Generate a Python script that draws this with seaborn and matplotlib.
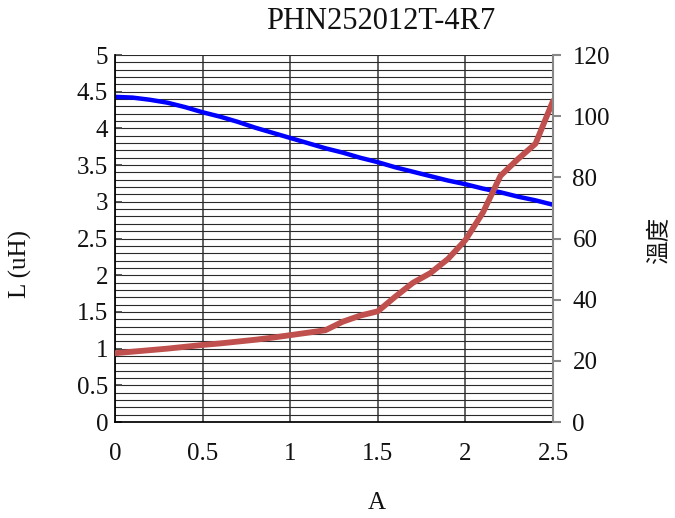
import numpy as np
import pandas as pd
import seaborn as sns
import matplotlib.pyplot as plt
from matplotlib.ticker import MultipleLocator, FormatStrFormatter

# --- data ---
current = [0.0, 0.1, 0.2, 0.3, 0.4, 0.5, 0.6, 0.7, 0.8, 0.9, 1.0, 1.1, 1.2,
           1.3, 1.4, 1.5, 1.6, 1.7, 1.8, 1.9, 2.0, 2.1, 2.2, 2.3, 2.4, 2.5]
inductance = [4.43, 4.42, 4.39, 4.35, 4.29, 4.22, 4.16, 4.09, 4.01, 3.94, 3.87,
              3.80, 3.73, 3.67, 3.60, 3.54, 3.47, 3.41, 3.35, 3.29, 3.24, 3.18,
              3.13, 3.07, 3.02, 2.96]
temperature = [22.5, 23.0, 23.5, 24.0, 24.6, 25.2, 25.7, 26.3, 26.9, 27.6, 28.4,
               29.2, 30.0, 32.8, 34.8, 36.2, 41.0, 45.5, 48.7, 53.3, 59.5, 68.5,
               80.5, 86.0, 91.0, 105.0]
x_ticks = [0, 0.5, 1, 1.5, 2, 2.5]
x_labels = ["0", "0.5", "1", "1.5", "2", "2.5"]

df = pd.DataFrame({"A": current, "L": inductance, "T": temperature})

sns.set_theme(style="white")
plt.rcParams['font.family'] = ['Liberation Serif', 'Noto Sans CJK TC']

fig = plt.figure(figsize=(6.75, 5.18), dpi=100)
ax = fig.add_axes([0.1704, 0.1853, 0.6489, 0.7085])
ax2 = ax.twinx()

# grid
ax.set_xlim(0, 2.5)
ax.set_ylim(0, 5)
ax.yaxis.set_major_locator(MultipleLocator(0.5))
ax.yaxis.set_minor_locator(MultipleLocator(0.1))
ax.yaxis.set_major_formatter(FormatStrFormatter("%g"))
ax.set_xticks(x_ticks)
ax.set_xticklabels(x_labels)
ax.grid(True, axis="y", which="both", color="#2a2a2a", lw=0.8)
ax.grid(True, axis="x", which="major", color="#555555", lw=1.3)
ax.set_axisbelow(True)

sns.lineplot(data=df, x="A", y="L", ax=ax, color="#0000ff", lw=3.2)
sns.lineplot(data=df, x="A", y="T", ax=ax2, color="#c0504d", lw=4.2)

ax2.set_ylim(0, 120)
ax2.yaxis.set_major_locator(MultipleLocator(20))

ax.set_xlabel("")
ax.set_ylabel("")
ax2.set_xlabel("")
ax2.set_ylabel("")

ax.spines["top"].set_visible(False)
ax2.spines["top"].set_visible(False)
ax.spines["left"].set_color("black")
ax.spines["bottom"].set_color("black")
ax2.spines["left"].set_visible(False)
ax2.spines["bottom"].set_visible(False)
ax2.spines["right"].set_color("#888888")
ax2.spines["right"].set_linewidth(1.5)
ax.spines["right"].set_visible(False)

ax.tick_params(axis="y", which="major", direction="in", length=5, color="#444444",
               labelsize=18, pad=5)
ax.tick_params(axis="y", which="minor", length=0)
ax.tick_params(axis="x", length=0, labelsize=18, pad=15)
ax2.tick_params(axis="y", direction="out", length=6, width=1.5, color="#888888",
                labelsize=18, pad=8)

for lbl in ax.get_xticklabels() + ax.get_yticklabels() + ax2.get_yticklabels():
    lbl.set_color("#111111")

fig.text(0.564, 0.958, "PHN252012T-4R7", ha="center", va="center", fontsize=22,
         color="#111111")
fig.text(0.558, 0.028, "A", ha="center", va="center", fontsize=18, color="#111111")
fig.text(0.03, 0.49, "L (uH)", ha="center", va="center", rotation=90, fontsize=18,
         color="#111111")
fig.text(0.978, 0.535, "溫度", ha="center", va="center", rotation=90, fontsize=17,
         family=['Noto Sans CJK TC'], color="#111111")

fig.savefig("out.png", dpi=100)
